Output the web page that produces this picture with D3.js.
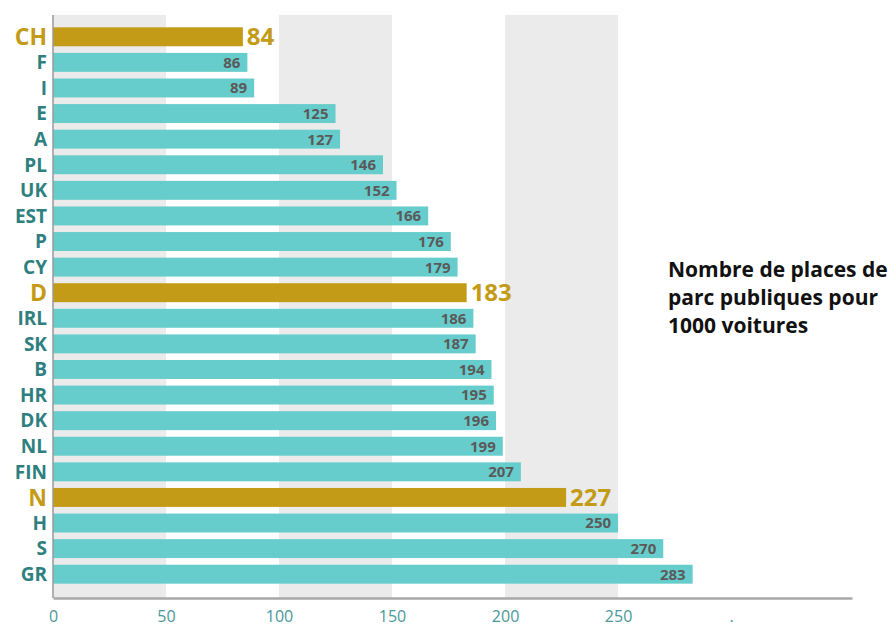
<!DOCTYPE html>
<html>
<head>
<meta charset="utf-8">
<script src="https://cdn.jsdelivr.net/npm/d3@7"></script>
<style>
  html, body { margin: 0; padding: 0; background: #fff; }
  svg { display: block; font-family: "Open Sans", "Lato", sans-serif; }
</style>
</head>
<body>
<svg id="chart" width="891" height="626"></svg>
<script>
const countries = ["CH","F","I","E","A","PL","UK","EST","P","CY","D","IRL","SK","B","HR","DK","NL","FIN","N","H","S","GR"];
const values    = [84, 86, 89, 125, 127, 146, 152, 166, 176, 179, 183, 186, 187, 194, 195, 196, 199, 207, 227, 250, 270, 283];
const highlighted = ["CH","D","N"];
const tickValues = [0, 50, 100, 150, 200, 250, 300];
const tickLabels = ["0","50","100","150","200","250","."];
const bandStarts = [0, 100, 200];
const legendLines = ["Nombre de places de", "parc publiques pour", "1000 voitures"];

const teal = "#67cdcc", gold = "#c39b17", labelTeal = "#2f7f7f", valGray = "#5a5a5a";

const svg = d3.select("#chart");
const x = d3.scaleLinear().domain([0, 353.5]).range([53, 852]);
const y = d3.scaleBand().domain(countries).range([24, 587]).paddingInner(0.26).paddingOuter(0.13);

const plotTop = 15, plotBottom = 598;

// gray background bands
svg.append("g").selectAll("rect").data(bandStarts).join("rect")
  .attr("x", d => x(d)).attr("width", d => x(d + 50) - x(d))
  .attr("y", plotTop).attr("height", plotBottom - plotTop)
  .attr("fill", "#ebebeb");

// bars
svg.append("g").selectAll("rect").data(countries).join("rect")
  .attr("x", x(0))
  .attr("y", d => y(d))
  .attr("height", y.bandwidth())
  .attr("width", (d, i) => x(values[i]) - x(0))
  .attr("fill", d => highlighted.includes(d) ? gold : teal);

// left axis line
svg.append("line").attr("x1", x(0)).attr("x2", x(0)).attr("y1", plotTop).attr("y2", plotBottom)
  .attr("stroke", "#9a9a9a").attr("stroke-width", 1.5);

// bottom axis
const xAxis = d3.axisBottom(x).tickValues(tickValues).tickFormat((d, i) => tickLabels[i]).tickSize(0).tickPadding(13);
const gx = svg.append("g").attr("transform", `translate(0,${plotBottom})`).call(xAxis);
gx.select(".domain").attr("stroke", "#a8a8a8").attr("stroke-width", 2.5);
gx.selectAll("text").attr("fill", "#4a9898").attr("font-size", 16)
  .attr("font-family", "'Open Sans', sans-serif");

// category labels
svg.append("g").selectAll("text").data(countries).join("text")
  .attr("x", 47)
  .attr("y", d => y(d) + y.bandwidth() / 2)
  .attr("dy", "0.36em")
  .attr("text-anchor", "end")
  .attr("font-weight", 700)
  .attr("font-size", d => highlighted.includes(d) ? 23 : 19)
  .attr("fill", d => highlighted.includes(d) ? gold : labelTeal)
  .text(d => d);

// value labels
svg.append("g").selectAll("text").data(countries).join("text")
  .attr("x", (d, i) => highlighted.includes(d) ? x(values[i]) + 4 : x(values[i]) - 7)
  .attr("y", d => y(d) + y.bandwidth() / 2)
  .attr("dy", "0.36em")
  .attr("text-anchor", d => highlighted.includes(d) ? "start" : "end")
  .attr("font-weight", 700)
  .attr("font-size", d => highlighted.includes(d) ? 24 : 15)
  .attr("fill", d => highlighted.includes(d) ? gold : valGray)
  .text((d, i) => values[i]);

// legend text
svg.append("g").selectAll("text").data(legendLines).join("text")
  .attr("x", 668)
  .attr("y", (d, i) => 277 + i * 28)
  .attr("font-weight", 700)
  .attr("font-size", 21)
  .attr("fill", "#111")
  .text(d => d);
</script>
</body>
</html>
